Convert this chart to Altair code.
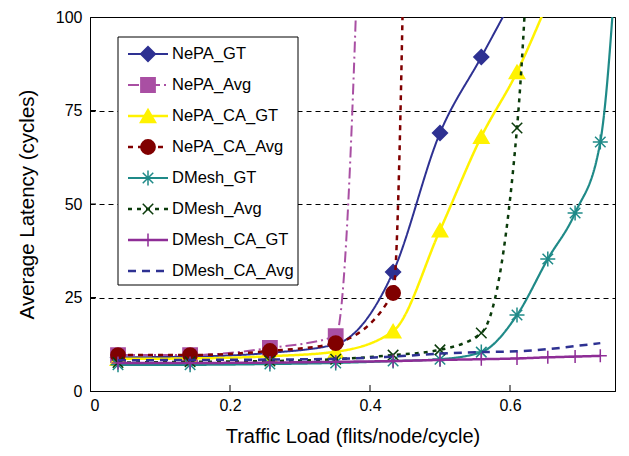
import altair as alt
import pandas as pd

FONT = "Liberation Sans"

series_names = ["NePA_GT", "NePA_Avg", "NePA_CA_GT", "NePA_CA_Avg",
                "DMesh_GT", "DMesh_Avg", "DMesh_CA_GT", "DMesh_CA_Avg"]
series_colors = ["#2e3192", "#a94fa3", "#fff200", "#800000",
                 "#1f8a88", "#0b3b0b", "#8e2d96", "#2e3192"]
series_dashes = [[1, 0], [11, 4, 2, 4], [1, 0], [5, 5],
                 [1, 0], [4, 5], [1, 0], [8, 6]]
series_widths = [2, 2, 2.5, 2.5, 2.2, 2.5, 2.5, 2.5]

x_ticks = [0, 0.2, 0.4, 0.6]
y_ticks = [0, 25, 50, 75, 100]

nepa_gt_x = [0.04, 0.143, 0.257, 0.351, 0.433, 0.5, 0.559, 0.61]
nepa_gt_y = [9.0, 9.2, 10.2, 12.5, 31.8, 69.0, 89.3, 107.0]
nepa_avg_x = [0.04, 0.143, 0.257, 0.351, 0.43]
nepa_avg_y = [9.6, 9.6, 11.5, 14.7, 500.0]
nepa_ca_gt_x = [0.04, 0.143, 0.257, 0.351, 0.433, 0.5, 0.559, 0.61, 0.654]
nepa_ca_gt_y = [8.6, 8.7, 9.3, 10.5, 16.0, 43.0, 68.0, 85.3, 104.0]
nepa_ca_avg_x = [0.04, 0.143, 0.257, 0.351, 0.433, 0.46]
nepa_ca_avg_y = [9.6, 9.6, 10.7, 12.8, 26.2, 260.0]
dmesh_gt_x = [0.04, 0.143, 0.257, 0.351, 0.433, 0.5, 0.559, 0.61, 0.654, 0.693, 0.729, 0.76]
dmesh_gt_y = [7.0, 7.0, 7.2, 7.5, 8.0, 8.5, 10.4, 20.3, 35.3, 47.6, 66.6, 140.0]
dmesh_avg_x = [0.04, 0.143, 0.257, 0.351, 0.433, 0.5, 0.559, 0.61, 0.654]
dmesh_avg_y = [7.6, 7.8, 8.0, 8.5, 9.6, 11.0, 15.5, 70.3, 250.0]
dmesh_ca_gt_x = [0.04, 0.143, 0.257, 0.351, 0.433, 0.5, 0.559, 0.61, 0.654, 0.693, 0.729]
dmesh_ca_gt_y = [7.5, 7.5, 7.6, 7.8, 8.0, 8.3, 8.5, 8.7, 9.0, 9.2, 9.4]
dmesh_ca_avg_x = [0.04, 0.143, 0.257, 0.351, 0.433, 0.5, 0.559, 0.61, 0.654, 0.693, 0.729]
dmesh_ca_avg_y = [8.2, 8.3, 8.4, 8.6, 9.2, 10.0, 10.4, 10.6, 11.2, 12.0, 12.8]

series_xy = [
    (nepa_gt_x, nepa_gt_y), (nepa_avg_x, nepa_avg_y),
    (nepa_ca_gt_x, nepa_ca_gt_y), (nepa_ca_avg_x, nepa_ca_avg_y),
    (dmesh_gt_x, dmesh_gt_y), (dmesh_avg_x, dmesh_avg_y),
    (dmesh_ca_gt_x, dmesh_ca_gt_y), (dmesh_ca_avg_x, dmesh_ca_avg_y),
]

STAR = "M0,-1L0,1M-1,0L1,0M-0.7,-0.7L0.7,0.7M-0.7,0.7L0.7,-0.7"
XMARK = "M-1,-1L1,1M-1,1L1,-1"
PLUS = "M0,-1L0,1M-1,0L1,0"
series_shapes = ["diamond", "square", "triangle-up", "circle", STAR, XMARK, PLUS, None]
series_filled = [True, True, True, True, False, False, False, None]
series_sizes = [200, 190, 210, 190, 225, 110, 170, 0]

rows = []
for name, (xs, ys) in zip(series_names, series_xy):
    for i, (a, b) in enumerate(zip(xs, ys)):
        rows.append({"series": name, "x": a, "y": b, "i": i})
df = pd.DataFrame(rows)

xscale = alt.Scale(domain=[0, 0.75], nice=False, zero=False)
yscale = alt.Scale(domain=[0, 100], nice=False)
XTITLE = "Traffic Load (flits/node/cycle)"
YTITLE = "Average Latency (cycles)"
xaxis = alt.Axis(values=x_ticks, format="~g", ticks=False, grid=False, labelFontSize=16,
                 labelPadding=6, titleFontSize=20, titlePadding=13, titleFontWeight="normal")
yaxis = alt.Axis(values=y_ticks, ticks=False, grid=True, gridDash=[5, 4], gridColor="black",
                 gridOpacity=1, gridWidth=1, labelFontSize=16, labelPadding=8,
                 titleFontSize=20.5, titlePadding=18, titleFontWeight="normal")
X = alt.X("x:Q", scale=xscale, axis=xaxis, title=XTITLE)
Y = alt.Y("y:Q", scale=yscale, axis=yaxis, title=YTITLE)

layers = []
for k, name in enumerate(series_names):
    base = alt.Chart(df).transform_filter(alt.datum.series == name)
    layers.append(base.mark_line(color=series_colors[k], strokeDash=series_dashes[k],
                                 strokeWidth=series_widths[k], clip=True,
                                 interpolate="monotone").encode(x=X, y=Y, order="i:Q"))
    if series_shapes[k] is not None:
        if series_filled[k]:
            pm = base.mark_point(shape=series_shapes[k], filled=True, fill=series_colors[k],
                                 stroke=series_colors[k], size=series_sizes[k], opacity=1,
                                 clip=True)
        else:
            pm = base.mark_point(shape=series_shapes[k], filled=False, stroke=series_colors[k],
                                 strokeWidth=1.5, size=series_sizes[k], opacity=1, clip=True)
        layers.append(pm.encode(x=X, y=Y))

tick_x_df = pd.DataFrame({"t": x_ticks[1:]})
tick_y_df = pd.DataFrame({"t": y_ticks[1:-1]})
layers.append(alt.Chart(tick_x_df).mark_rule(color="black", strokeWidth=1).encode(
    x=alt.X("t:Q", scale=xscale, axis=xaxis, title=XTITLE),
    y=alt.value(374), y2=alt.value(368)))
layers.append(alt.Chart(tick_y_df).mark_rule(color="black", strokeWidth=1).encode(
    y=alt.Y("t:Q", scale=yscale, axis=yaxis, title=YTITLE),
    x=alt.value(0), x2=alt.value(6)))

main = alt.layer(*layers)

# Legend
leg_df = pd.DataFrame({"series": series_names, "idx": list(range(len(series_names)))})
LY = alt.Y("idx:Q", scale=alt.Scale(domain=[0, 7], range=[37, 254]), axis=None)
box = alt.Chart(pd.DataFrame({"a": [0]})).mark_rect(fill="white", stroke="black",
                                                     strokeWidth=1).encode(
    x=alt.value(28), x2=alt.value(208), y=alt.value(20), y2=alt.value(268))
leg_layers = [box]
for k, name in enumerate(series_names):
    b = alt.Chart(leg_df).transform_filter(alt.datum.series == name)
    leg_layers.append(b.mark_rule(color=series_colors[k], strokeDash=series_dashes[k],
                                  strokeWidth=series_widths[k]).encode(
        x=alt.value(38), x2=alt.value(78), y=LY))
    if series_shapes[k] is not None:
        if series_filled[k]:
            pm = b.mark_point(shape=series_shapes[k], filled=True, fill=series_colors[k],
                              stroke=series_colors[k], size=series_sizes[k], opacity=1)
        else:
            pm = b.mark_point(shape=series_shapes[k], filled=False, stroke=series_colors[k],
                              strokeWidth=1.5, size=series_sizes[k], opacity=1)
        leg_layers.append(pm.encode(x=alt.value(58), y=LY))
leg_layers.append(alt.Chart(leg_df).mark_text(align="left", baseline="middle", fontSize=16.5,
                                              font=FONT, color="black").encode(
    x=alt.value(82), y=LY, text="series:N"))
legend = alt.layer(*leg_layers)

chart = alt.layer(main, legend).resolve_scale(y="independent").properties(
    width=525, height=374, autosize="none",
    padding={"left": 82, "top": 9, "right": 6, "bottom": 57},
).configure_view(stroke="black", strokeWidth=1).configure_axis(
    labelFont=FONT, titleFont=FONT, labelColor="black", titleColor="black",
    domainColor="black", domainWidth=1, titleFontWeight="normal", labelFontWeight="normal")

chart.save("out.html", embed_options={"renderer": "svg", "actions": False})
